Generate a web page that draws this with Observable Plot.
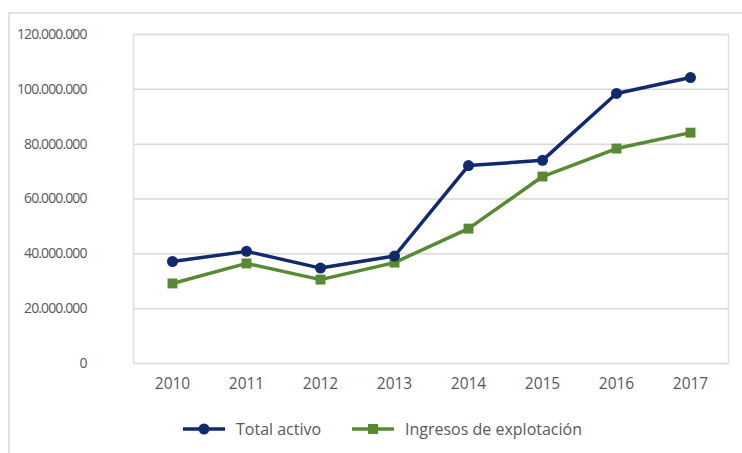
<!DOCTYPE html>
<html>
<head>
<meta charset="utf-8">
<script src="https://cdn.jsdelivr.net/npm/d3@7"></script>
<script src="https://cdn.jsdelivr.net/npm/@observablehq/plot@0.6"></script>
<style>
  html, body { margin: 0; padding: 0; background: #fff; }
  #wrap { position: relative; width: 742px; height: 453px; overflow: hidden; font-family: "Open Sans", sans-serif; }
  #border { position: absolute; left: 8px; top: 12px; right: -2px; bottom: -2px; border-top: 2px solid #e3e3e3; border-left: 2px solid #e3e3e3; pointer-events: none; }
  #chart { position: absolute; left: 0; top: 0; }
  .leg { position: absolute; top: 418px; display: flex; align-items: center; font-size: 16px; color: #595959; }
  .leg svg { margin-right: 10px; }
  g[aria-label="y-axis tick label"] text { letter-spacing: -0.9px; }
</style>
</head>
<body>
<div id="wrap">
  <div id="chart"></div>
  <div id="border"></div>
  <div class="leg" id="leg1" style="left:182px"></div>
  <div class="leg" id="leg2" style="left:351px"></div>
</div>
<script>
const years = ["2010","2011","2012","2013","2014","2015","2016","2017"];
const totalActivo = [37200000, 40900000, 34800000, 39200000, 72200000, 74100000, 98500000, 104300000];
const ingresos = [29200000, 36500000, 30600000, 36800000, 49200000, 68200000, 78400000, 84200000];
const seriesNames = ["Total activo", "Ingresos de explotación"];
const yTicks = [0, 20000000, 40000000, 60000000, 80000000, 100000000, 120000000];

const navy = "#12296b";
const green = "#578a32";
const locale = d3.formatLocale({decimal: ",", thousands: ".", grouping: [3], currency: ["", ""]});
const fmt = locale.format(",d");

const data = [];
years.forEach((y, i) => {
  data.push({year: y, value: totalActivo[i], serie: seriesNames[0]});
  data.push({year: y, value: ingresos[i], serie: seriesNames[1]});
});
const dA = data.filter(d => d.serie === seriesNames[0]);
const dI = data.filter(d => d.serie === seriesNames[1]);

const chart = Plot.plot({
  width: 742,
  height: 400,
  marginLeft: 133,
  marginRight: 14,
  marginTop: 34,
  marginBottom: 37,
  style: {fontFamily: '"Open Sans", sans-serif', fontSize: "15px", color: "#595959", background: "transparent"},
  x: {type: "point", domain: years, padding: 0.5, label: null},
  y: {domain: [0, 120000000], label: null},
  marks: [
    Plot.gridY(yTicks, {stroke: "#d9d9d9", strokeOpacity: 1, strokeWidth: 1.5}),
    Plot.frame({stroke: "#e0e0e0", strokeWidth: 1.5}),
    Plot.axisY(yTicks, {tickSize: 0, tickPadding: 47, tickFormat: fmt, fontSize: 14, fill: "#595959", label: null}),
    Plot.axisX({tickSize: 0, tickPadding: 14, fontSize: 15.5, fill: "#595959", label: null}),
    Plot.line(dI, {x: "year", y: "value", stroke: green, strokeWidth: 3.5}),
    Plot.line(dA, {x: "year", y: "value", stroke: navy, strokeWidth: 3.5}),
    Plot.dot(dI, {x: "year", y: "value", symbol: "square", r: 5.6, fill: green}),
    Plot.dot(dA, {x: "year", y: "value", symbol: "circle", r: 5.5, fill: navy})
  ]
});
document.getElementById("chart").appendChild(chart);
d3.select(chart).selectAll('g[aria-label="y-axis tick label"] text').style("letter-spacing", "-0.9px");

function swatch(color, shape) {
  const ns = "http://www.w3.org/2000/svg";
  const s = document.createElementNS(ns, "svg");
  s.setAttribute("width", 44); s.setAttribute("height", 14);
  const l = document.createElementNS(ns, "line");
  l.setAttribute("x1", 1); l.setAttribute("x2", 43); l.setAttribute("y1", 7); l.setAttribute("y2", 7);
  l.setAttribute("stroke", color); l.setAttribute("stroke-width", 3.5);
  s.appendChild(l);
  if (shape === "circle") {
    const c = document.createElementNS(ns, "circle");
    c.setAttribute("cx", 22); c.setAttribute("cy", 7); c.setAttribute("r", 5.5); c.setAttribute("fill", color);
    s.appendChild(c);
  } else {
    const r = document.createElementNS(ns, "rect");
    r.setAttribute("x", 17); r.setAttribute("y", 2); r.setAttribute("width", 10); r.setAttribute("height", 10); r.setAttribute("fill", color);
    s.appendChild(r);
  }
  return s;
}
const l1 = document.getElementById("leg1");
l1.appendChild(swatch(navy, "circle"));
l1.appendChild(document.createTextNode(seriesNames[0]));
const l2 = document.getElementById("leg2");
l2.appendChild(swatch(green, "square"));
l2.appendChild(document.createTextNode(seriesNames[1]));
</script>
</body>
</html>
